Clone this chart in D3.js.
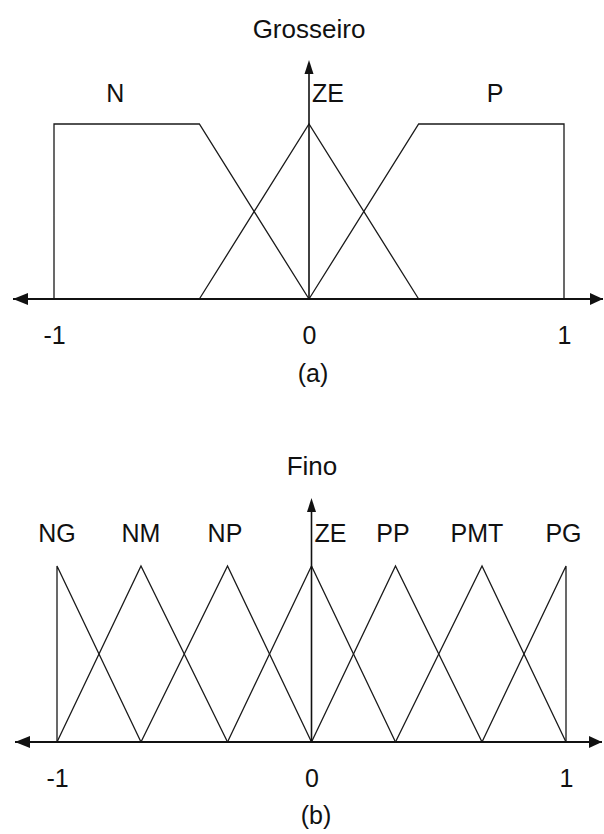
<!DOCTYPE html>
<html>
<head>
<meta charset="utf-8">
<script type="text/javascript" src="https://cdnjs.cloudflare.com/ajax/libs/d3/7.8.5/d3.min.js"></script>
<style>
  body { margin: 0; background: #fff; }
  text { font-family: "Liberation Sans", Arial, sans-serif; fill: #111; }
</style>
</head>
<body>
<div id="viz"></div>
<script type="text/javascript">

// tick labels shared by both panels
var tickValues = [-1, 0, 1];

// (a) coarse sets: names, label positions, polyline points [x, membership]
var coarseNames = ["N", "ZE", "P"];
var coarseLabelX = [-0.76, 0, 0.73];
var coarseN  = [[-1, 0], [-1, 1], [-0.43, 1], [0, 0]];
var coarseZE = [[-0.43, 0], [0, 1], [0.43, 0]];
var coarseP  = [[0, 0], [0.43, 1], [1, 1], [1, 0]];

// (b) fine sets
var fineNames = ["NG", "NM", "NP", "ZE", "PP", "PMT", "PG"];
var fineLabelX = [-1, -0.67, -0.34, 0, 0.32, 0.65, 0.99];
var fineNG  = [[-1, 0], [-1, 1], [-0.67, 0]];
var fineNM  = [[-1, 0], [-0.67, 1], [-0.33, 0]];
var fineNP  = [[-0.67, 0], [-0.33, 1], [0, 0]];
var fineZE  = [[-0.33, 0], [0, 1], [0.33, 0]];
var finePP  = [[0, 0], [0.33, 1], [0.67, 0]];
var finePMT = [[0.33, 0], [0.67, 1], [1, 0]];
var finePG  = [[0.67, 0], [1, 1], [1, 0]];

var svg = d3.select("#viz").append("svg")
    .attr("width", 604)
    .attr("height", 834);

function arrowHead(g, x, y, dir) {
    // small filled triangle; dir: "left", "right", "up"
    var p;
    if (dir == "left") p = [[x, y], [x + 15, y - 6], [x + 15, y + 6]];
    else if (dir == "right") p = [[x, y], [x - 13, y - 6], [x - 13, y + 6]];
    else p = [[x, y], [x - 4.5, y + 14], [x + 4.5, y + 14]];
    g.append("path").attr("d", "M" + p.join("L") + "Z").attr("fill", "#111");
}

function drawPanel(o) {
    var g = svg.append("g");
    var x = d3.scaleLinear().domain([-1, 1]).range(o.xr);
    var y = d3.scaleLinear().domain([0, 1]).range(o.yr);
    var line = d3.line().x(d => x(d[0])).y(d => y(d[1]));

    // membership functions
    g.selectAll("path.mf").data(o.sets).enter().append("path")
        .attr("class", "mf")
        .attr("d", line)
        .attr("fill", "none")
        .attr("stroke", "#1a1a1a")
        .attr("stroke-width", 1.3)
        .attr("stroke-linejoin", "miter");

    // horizontal axis with arrows at both ends
    g.append("line")
        .attr("x1", o.axL).attr("x2", o.axR)
        .attr("y1", y(0)).attr("y2", y(0))
        .attr("stroke", "#111").attr("stroke-width", 2);
    arrowHead(g, o.axL, y(0), "left");
    arrowHead(g, o.axR, y(0), "right");

    // vertical axis at 0
    g.append("line")
        .attr("x1", x(0)).attr("x2", x(0))
        .attr("y1", y(0)).attr("y2", o.axTop + 10)
        .attr("stroke", "#111").attr("stroke-width", 1.6);
    arrowHead(g, x(0), o.axTop, "up");

    // tick labels (plain hyphen like the original)
    var ax = d3.axisBottom(x).tickValues(tickValues).tickSize(0).tickPadding(27)
        .tickFormat(d => String(d));
    var axg = g.append("g").attr("transform", "translate(0," + y(0) + ")").call(ax);
    axg.select(".domain").remove();
    axg.selectAll("text").attr("font-size", 25).attr("fill", "#111")
        .style("font-family", "'Liberation Sans', Arial, sans-serif");

    // set names
    g.selectAll("text.lbl").data(o.names).enter().append("text")
        .attr("class", "lbl")
        .attr("x", (d, i) => d == "ZE" ? x(0) + 3 : x(o.labelX[i]))
        .attr("y", o.labelY)
        .attr("text-anchor", d => d == "ZE" ? "start" : "middle")
        .attr("font-size", 25)
        .text(d => d);

    // title and caption
    g.append("text").attr("x", o.titleX).attr("y", o.titleY)
        .attr("text-anchor", "middle").attr("font-size", 26).text(o.title);
    g.append("text").attr("x", o.capX).attr("y", o.capY)
        .attr("text-anchor", "middle").attr("font-size", 25).text(o.caption);
}

drawPanel({
    sets: [coarseN, coarseZE, coarseP],
    names: coarseNames, labelX: coarseLabelX,
    xr: [54, 564], yr: [299, 124],
    axL: 13, axR: 603, axTop: 60,
    labelY: 102,
    title: "Grosseiro", titleX: 309, titleY: 38,
    caption: "(a)", capX: 313, capY: 382
});

drawPanel({
    sets: [fineNG, fineNM, fineNP, fineZE, finePP, finePMT, finePG],
    names: fineNames, labelX: fineLabelX,
    xr: [57, 566], yr: [742, 566],
    axL: 15, axR: 602, axTop: 498,
    labelY: 542,
    title: "Fino", titleX: 312, titleY: 475,
    caption: "(b)", capX: 316, capY: 824
});

</script>
</body>
</html>
